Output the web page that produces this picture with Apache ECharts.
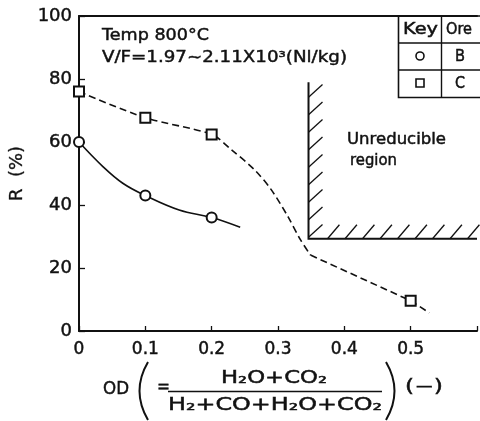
<!DOCTYPE html>
<html><head><meta charset="utf-8">
<script src="https://cdn.jsdelivr.net/npm/echarts@6/dist/echarts.min.js"></script>
<style>html,body{margin:0;padding:0;background:#fff}#c{width:480px;height:421px}</style>
</head><body><div id="c"></div>
<script>
// ---- data ----
const xTicks = [0, 0.1, 0.2, 0.3, 0.4, 0.5];
const yTicks = [0, 20, 40, 60, 80, 100];
// Ore B (circles, solid curve)
const oreB_x = [0, 0.1, 0.2];
const oreB_y = [60, 43, 36];
const oreB_curveX = [0, 0.036, 0.066, 0.1, 0.151, 0.2, 0.243];
const oreB_curveY = [60, 52.2, 46.9, 43, 38.4, 36, 32.9];
// Ore C (squares, dashed curve)
const oreC_x = [0, 0.1, 0.2, 0.5];
const oreC_y = [76, 67.7, 62.4, 9.6];
const oreC_curveX = [0, 0.1, 0.2, 0.23, 0.265, 0.29, 0.315, 0.334, 0.349];
const oreC_curveY = [76, 67.7, 62.4, 57.5, 51.1, 44.8, 36.3, 28.9, 24.1];
const oreC_tailX = [0.349, 0.5, 0.528];
const oreC_tailY = [24.1, 9.6, 5.8];
// Unreducible region boundary
const boundaryX = [0.346, 0.346, 0.6];
const boundaryY = [79, 29.3, 29.3];

const zip = (a, b) => a.map((v, i) => [v, b[i]]);
const INK = '#111';
const FF = '"DejaVu Sans", sans-serif';
const THICK = 0.45; // slight outline to mimic the heavy scanned print

const mctx = document.createElement('canvas').getContext('2d');
function fitText(text, size, target, x, y, align) {
  mctx.font = size + 'px "DejaVu Sans"';
  const w = mctx.measureText(text).width;
  return { type: 'text', x: x, y: y, scaleX: target / w, silent: true,
    style: { text: text, fontSize: size, fontFamily: FF, fill: INK, stroke: INK, lineWidth: THICK,
      align: align || 'left', verticalAlign: 'middle' } };
}

const chart = echarts.init(document.getElementById('c'), null, { renderer: 'canvas' });

const graphics = [
  // x-axis title
  fitText('OD', 17, 26, 103, 390, 'left'),
  { type: 'bezierCurve', silent: true, shape: { x1: 148, y1: 362, x2: 148, y2: 420, cpx1: 131, cpy1: 391 }, style: { stroke: INK, lineWidth: 2, fill: null } },
  fitText('=', 18, 13, 157, 387, 'left'),
  fitText('H\u2082O+CO\u2082', 17, 106, 274, 379, 'center'),
  { type: 'line', silent: true, shape: { x1: 168, y1: 391.5, x2: 382, y2: 391.5 }, style: { stroke: INK, lineWidth: 1.6 } },
  fitText('H\u2082+CO+H\u2082O+CO\u2082', 17, 214, 275, 406, 'center'),
  { type: 'bezierCurve', silent: true, shape: { x1: 386, y1: 362, x2: 386, y2: 420, cpx1: 403, cpy1: 391 }, style: { stroke: INK, lineWidth: 2, fill: null } },
  fitText('(\u2212)', 17, 38, 405, 388, 'left'),
  // annotations
  fitText('Temp 800\u00b0C', 16, 107, 102, 36, 'left'),
  fitText('V/F=1.97~2.11X10\u00b3(Nl/kg)', 16, 245, 102, 58, 'left'),
  fitText('Unreducible', 15, 99, 347, 140, 'left'),
  fitText('region', 15, 47, 350, 161, 'left'),
  // key table
  { type: 'polyline', silent: true, shape: { points: [[482, 16], [398.5, 16], [398.5, 97.5], [482, 97.5]] }, style: { stroke: INK, lineWidth: 1.6, fill: null } },
  { type: 'line', silent: true, shape: { x1: 398.5, y1: 43, x2: 482, y2: 43 }, style: { stroke: INK, lineWidth: 1.4 } },
  { type: 'line', silent: true, shape: { x1: 398.5, y1: 70, x2: 482, y2: 70 }, style: { stroke: INK, lineWidth: 1.4 } },
  { type: 'line', silent: true, shape: { x1: 441.5, y1: 16, x2: 441.5, y2: 97.5 }, style: { stroke: INK, lineWidth: 1.4 } },
  fitText('Key', 15, 35, 420.5, 30, 'center'),
  fitText('Ore', 15, 26, 446, 30, 'left'),
  fitText('B', 15, 10, 460, 57, 'center'),
  fitText('C', 15, 10, 460, 84, 'center'),
  { type: 'circle', silent: true, shape: { cx: 420, cy: 56, r: 4 }, style: { stroke: INK, lineWidth: 1.6, fill: '#fff' } },
  { type: 'rect', silent: true, shape: { x: 416, y: 79, width: 8, height: 8 }, style: { stroke: INK, lineWidth: 1.6, fill: '#fff' } }
];

const axisLabel = { color: INK, fontFamily: FF, fontSize: 17, textBorderColor: INK, textBorderWidth: THICK };

chart.setOption({
  animation: false,
  backgroundColor: '#fff',
  grid: { left: 79, top: 16, width: 402, height: 315, containLabel: false },
  xAxis: [{
    type: 'value', min: 0, max: 0.6, interval: 0.1,
    axisLine: { show: true, lineStyle: { color: INK, width: 2 } },
    axisTick: { show: true, inside: true, length: 5, lineStyle: { color: INK, width: 1.3 } },
    splitLine: { show: false },
    axisLabel: Object.assign({}, axisLabel, { margin: 10,
      formatter: v => { const t = xTicks.find(t => Math.abs(t - v) < 1e-9); return t === undefined ? '' : String(t); } })
  }, {
    type: 'value', position: 'top', min: 0, max: 0.6,
    axisLine: { show: true, onZero: false, lineStyle: { color: INK, width: 2 } },
    axisTick: { show: false }, axisLabel: { show: false }, splitLine: { show: false }
  }],
  yAxis: {
    type: 'value', min: 0, max: 100, interval: 20,
    name: 'R  (%)', nameLocation: 'middle', nameGap: 48, nameRotate: 90,
    nameTextStyle: { color: INK, fontFamily: FF, fontSize: 18, textBorderColor: INK, textBorderWidth: 0.3 },
    axisLine: { show: true, lineStyle: { color: INK, width: 2 } },
    axisTick: { show: true, inside: true, length: 6, lineStyle: { color: INK, width: 1.3 } },
    splitLine: { show: false },
    axisLabel: Object.assign({}, axisLabel, { fontSize: 18, margin: 7,
      formatter: v => (yTicks.indexOf(v) >= 0 ? String(v) : '') })
  },
  series: [
    {
      type: 'custom', silent: true, coordinateSystem: 'cartesian2d', clip: false,
      data: [[boundaryX[1], boundaryY[1]]],
      renderItem: function (params, api) {
        const pts = boundaryX.map((x, i) => api.coord([x, boundaryY[i]]));
        const top = pts[0], corner = pts[1], right = pts[2];
        const children = [{ type: 'polyline', shape: { points: pts }, style: { stroke: INK, lineWidth: 2, fill: null } }];
        const step = 17.5, d = 14;
        for (let y = corner[1] - 1.5; y > top[1] + 12; y -= step) {
          children.push({ type: 'line', shape: { x1: corner[0], y1: y, x2: corner[0] + d, y2: y - d * 0.9 }, style: { stroke: INK, lineWidth: 1.3 } });
        }
        for (let x = corner[0] + 19; x < right[0]; x += step) {
          children.push({ type: 'line', shape: { x1: x, y1: corner[1], x2: x + d * 0.85, y2: corner[1] - d }, style: { stroke: INK, lineWidth: 1.3 } });
        }
        return { type: 'group', children: children };
      },
      z: 1
    },
    {
      name: 'B curve', type: 'line', data: zip(oreB_curveX, oreB_curveY), smooth: 0.4,
      showSymbol: false, lineStyle: { color: INK, width: 1.6 }, z: 2
    },
    {
      name: 'C curve', type: 'line', data: zip(oreC_curveX, oreC_curveY), smooth: 0.3,
      showSymbol: false, lineStyle: { color: INK, width: 1.6, type: [7, 4] }, z: 2
    },
    {
      name: 'C tail', type: 'line', data: zip(oreC_tailX, oreC_tailY),
      showSymbol: false, lineStyle: { color: INK, width: 1.6, type: [7, 4] }, z: 2
    },
    {
      name: 'B', type: 'scatter', data: zip(oreB_x, oreB_y), symbol: 'emptyCircle', symbolSize: 10,
      itemStyle: { color: INK, borderColor: INK, borderWidth: 1.6, opacity: 1 }, z: 5
    },
    {
      name: 'C', type: 'scatter', data: zip(oreC_x, oreC_y), symbol: 'emptyRect', symbolSize: 10,
      itemStyle: { color: INK, borderColor: INK, borderWidth: 1.6, opacity: 1 }, z: 5
    }
  ],
  graphic: graphics
});
</script>
</body></html>
